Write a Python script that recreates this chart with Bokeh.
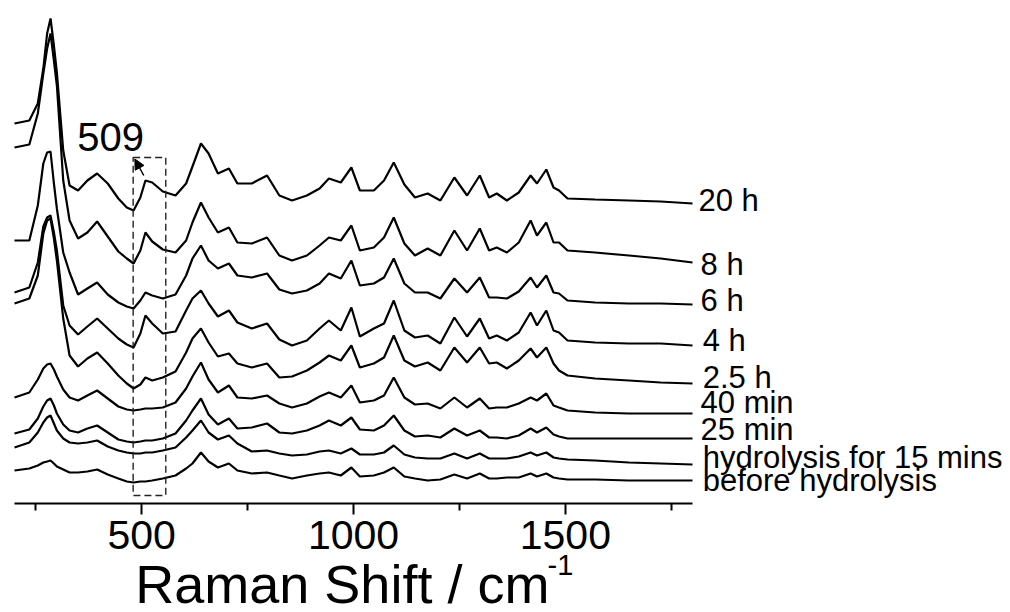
from bokeh.plotting import figure
from bokeh.models import (Range1d, FixedTicker, Label, LabelSet, ColumnDataSource,
                          Arrow, NormalHead, BoxAnnotation, LinearAxis)
from bokeh.embed import file_html
from bokeh.resources import INLINE
from bokeh.core.properties import value

FONT = "Liberation Sans"

# ---------------- data ----------------
wavenumber = [200, 235, 255, 268, 277, 285, 293, 300, 315, 330, 350, 372, 395, 420, 445,
              465, 481, 497, 509, 525, 550, 580, 605, 620, 640, 658, 680, 706, 726, 760,
              796, 825, 855, 890, 920, 942, 970, 995, 1015, 1048, 1072, 1095, 1120, 1145, 1175,
              1205, 1238, 1268, 1298, 1320, 1338, 1362, 1390, 1418, 1433, 1455, 1472, 1485, 1505, 1570,
              1650, 1725, 1800]

s_20h = [380, 383, 400, 435, 470, 485, 458, 431, 353, 318, 313, 323, 330, 320, 305,
         296, 293, 306, 323, 321, 312, 308, 320, 337, 360, 350, 330, 335, 320, 320,
         328, 308, 303, 308, 315, 325, 321, 336, 313, 313, 323, 341, 319, 306, 310,
         303, 326, 308, 328, 306, 310, 303, 311, 328, 320, 334, 316, 313, 305, 304,
         303, 302, 300]
s_8h = [356, 359, 390, 430, 455, 470, 443, 418, 323, 283, 265, 271, 282, 267, 252,
        245, 240, 253, 271, 262, 254, 251, 263, 281, 301, 286, 271, 276, 261, 260,
        266, 248, 243, 248, 258, 266, 263, 278, 253, 256, 266, 286, 260, 248, 255,
        248, 273, 253, 275, 253, 256, 251, 261, 283, 268, 281, 261, 261, 253, 251,
        248, 245, 241]
s_6h = [263, 263, 298, 340, 351, 352, 320, 295, 251, 231, 209, 215, 221, 209, 201,
        197, 195, 203, 211, 208, 205, 209, 228, 245, 258, 243, 235, 240, 228, 226,
        230, 214, 210, 213, 220, 230, 225, 243, 218, 220, 226, 245, 220, 211, 211,
        205, 225, 211, 226, 206, 206, 205, 212, 226, 216, 228, 211, 210, 203, 201,
        200, 200, 199]
s_4h = [211, 216, 241, 277, 286, 288, 271, 253, 198, 178, 169, 177, 185, 175, 165,
        159, 156, 170, 188, 180, 170, 172, 193, 205, 213, 200, 187, 193, 181, 175,
        180, 164, 158, 163, 175, 183, 173, 196, 167, 175, 180, 203, 173, 166, 168,
        160, 186, 167, 185, 165, 168, 163, 171, 191, 178, 193, 173, 171, 163, 161,
        160, 160, 158]
s_2p5h = [200, 205, 228, 270, 283, 285, 265, 243, 185, 148, 137, 145, 151, 140, 128,
          120, 115, 119, 126, 123, 126, 132, 151, 165, 175, 161, 147, 150, 140, 136,
          140, 126, 127, 133, 141, 148, 143, 158, 136, 140, 146, 168, 143, 137, 141,
          133, 156, 141, 156, 140, 141, 135, 143, 155, 146, 156, 140, 133, 128, 125,
          123, 121, 120]
s_40min = [106, 111, 124, 135, 139, 140, 134, 127, 114, 106, 103, 108, 113, 105, 97,
           94, 93, 94, 95, 95, 96, 101, 115, 127, 141, 124, 111, 118, 106, 105,
           108, 100, 96, 100, 107, 111, 106, 118, 101, 103, 108, 126, 106, 99, 100,
           95, 106, 96, 105, 95, 96, 96, 100, 106, 103, 110, 98, 96, 93, 91,
           90, 90, 90]
s_25min = [70, 74, 85, 97, 103, 105, 98, 90, 79, 73, 71, 75, 78, 71, 64,
           62, 61, 62, 63, 63, 65, 70, 83, 93, 105, 89, 79, 85, 75, 76,
           80, 71, 70, 73, 78, 83, 78, 86, 74, 73, 78, 88, 73, 67, 68,
           66, 75, 68, 73, 66, 66, 65, 68, 75, 71, 76, 69, 67, 65, 65,
           65, 65, 65]
s_15min = [56, 61, 71, 81, 86, 88, 80, 73, 65, 61, 60, 61, 63, 57, 53,
           51, 50, 50, 51, 51, 53, 56, 66, 73, 83, 71, 64, 68, 60, 52,
           53, 50, 48, 49, 52, 53, 50, 55, 49, 49, 51, 58, 49, 46, 45,
           45, 50, 45, 50, 45, 45, 45, 47, 51, 48, 51, 46, 45, 44, 43,
           41, 40, 39]
s_before = [33, 35, 38, 41, 42, 43, 40, 37, 34, 31, 31, 32, 34, 29, 25,
            22, 21, 22, 22, 23, 25, 28, 35, 40, 51, 42, 36, 40, 33, 30,
            31, 28, 25, 28, 30, 31, 28, 36, 27, 28, 31, 36, 27, 25, 23,
            24, 29, 25, 30, 25, 25, 26, 26, 30, 27, 30, 26, 25, 24, 24,
            23, 23, 23]

series_names = ["20 h", "8 h", "6 h", "4 h", "2.5 h", "40 min", "25 min",
                "hydrolysis for 15 mins", "before hydrolysis"]
series_values = [s_20h, s_8h, s_6h, s_4h, s_2p5h, s_40min, s_25min, s_15min, s_before]

# label anchor positions (data units)
label_x = [1814, 1819, 1819, 1824, 1824, 1819, 1819, 1824, 1824]
label_y = [293, 229, 193, 153, 116, 91, 64, 36, 13]

major_ticks = [500, 1000, 1500]
minor_ticks = [250, 750, 1250, 1750]
x_min, x_max = 200, 1800

box_left, box_right, box_bottom, box_top = 480, 557, 8, 346
peak_text = "509"

# ---------------- figure ----------------
p = figure(width=1010, height=612, x_range=Range1d(166.96, 2550.4), y_range=Range1d(-109, 503),
           output_backend="svg", toolbar_location=None,
           x_axis_location=None, y_axis_location=None,
           min_border_left=0, min_border_right=0, min_border_top=0, min_border_bottom=0)
p.outline_line_color = None
p.grid.visible = False
p.background_fill_color = "white"
p.border_fill_color = "white"

src = ColumnDataSource({"x": wavenumber, **{f"y{i}": v for i, v in enumerate(series_values)}})
for i in range(len(series_values)):
    p.line("x", f"y{i}", source=src, line_color="black", line_width=2.2)

ax = LinearAxis(fixed_location=0, bounds=(x_min, x_max),
                ticker=FixedTicker(ticks=major_ticks, minor_ticks=minor_ticks))
ax.axis_line_width = 2
ax.axis_line_color = "black"
ax.major_tick_line_width = 2
ax.minor_tick_line_width = 2
ax.major_tick_in = 0
ax.major_tick_out = 11
ax.minor_tick_in = 0
ax.minor_tick_out = 7
ax.major_label_text_font = FONT
ax.major_label_text_font_size = "41px"
ax.major_label_text_color = "black"
ax.major_label_standoff = 6
p.add_layout(ax, "below")

# axis title (with superscript)
p.add_layout(Label(x=485, y=-80, text="Raman Shift / cm", text_font=FONT,
                   text_font_size="54px", text_color="black", text_baseline="alphabetic"))
p.add_layout(Label(x=1458, y=-61, text="-1", text_font=FONT,
                   text_font_size="29px", text_color="black", text_baseline="alphabetic"))

# series labels
lab_src = ColumnDataSource({"x": label_x, "y": label_y, "t": series_names})
p.add_layout(LabelSet(x="x", y="y", text="t", source=lab_src, text_font=value(FONT),
                      text_font_size="31px", text_color="black", text_baseline="alphabetic"))

# 509 annotation
p.add_layout(BoxAnnotation(left=box_left, right=box_right, bottom=box_bottom, top=box_top,
                           fill_alpha=0, line_color="#222222", line_alpha=1, line_width=1.4,
                           line_dash="7 4"))
p.add_layout(Arrow(end=NormalHead(size=10, fill_color="black", line_color="black"),
                   x_start=505, y_start=328, x_end=484, y_end=344.5,
                   line_color="black", line_width=1.5))
p.add_layout(Label(x=348, y=367, text=peak_text, text_font=FONT, text_font_size="40px",
                   text_color="black", text_baseline="alphabetic"))

open("out.html", "w").write(file_html(p, INLINE))
